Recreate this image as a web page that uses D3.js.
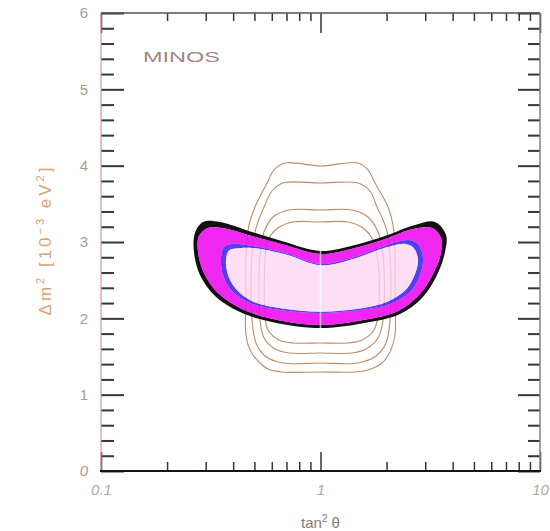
<!DOCTYPE html>
<html>
<head>
<meta charset="utf-8">
<script src="https://cdn.jsdelivr.net/npm/d3@7"></script>
<style>
  body { margin: 0; background: #ffffff; }
  svg { display: block; }
</style>
</head>
<body>
<svg id="chart" width="550" height="531"></svg>
<script>
// ---- axis ticks ----
const xMajorTicks = [0.1, 1, 10];
const xMinorTicks = [0.2, 0.3, 0.4, 0.5, 0.6, 0.7, 0.8, 0.9, 2, 3, 4, 5, 6, 7, 8, 9];
const xTickLabels = ["0.1", "1", "10"];
const yMajorTicks = [0, 1, 2, 3, 4, 5, 6];
const yMinorTicks = [0.2, 0.4, 0.6, 0.8, 1.2, 1.4, 1.6, 1.8, 2.2, 2.4, 2.6, 2.8,
                     3.2, 3.4, 3.6, 3.8, 4.2, 4.4, 4.6, 4.8, 5.2, 5.4, 5.6, 5.8];
const yTickLabels = ["0", "1", "2", "3", "4", "5", "6"];

// ---- MINOS allowed region: nested filled contours, [tan^2 theta, dm^2 (1e-3 eV^2)] ----
const blackEdge = [
  [0.2915, 3.262], [0.3484, 3.262], [0.4875, 3.131], [0.6892, 3.000], [1.0, 2.882],
  [1.436, 2.961], [1.967, 3.079], [2.695, 3.223], [3.324, 3.262], [3.731, 3.092],
  [3.692, 2.869], [3.395, 2.568], [2.900, 2.266], [2.302, 2.057], [1.681, 1.952],
  [1.0, 1.873], [0.6012, 1.952], [0.4298, 2.083], [0.3307, 2.293], [0.2825, 2.568],
  [0.2652, 2.869], [0.2680, 3.118]
];
const magentaEdge = [
  [0.3072, 3.184], [0.3558, 3.184], [0.4875, 3.079], [0.6892, 2.961], [1.0, 2.843],
  [1.436, 2.922], [1.967, 3.039], [2.639, 3.170], [3.221, 3.184], [3.540, 3.053],
  [3.540, 2.856], [3.255, 2.581], [2.810, 2.306], [2.255, 2.096], [1.663, 1.991],
  [1.0, 1.913], [0.6076, 1.991], [0.4389, 2.122], [0.3411, 2.332], [0.2945, 2.594],
  [0.2766, 2.869], [0.2795, 3.079]
];
const blueEdge = [
  [0.3952, 2.974], [0.4875, 2.948], [0.6892, 2.856], [1.0, 2.712], [1.436, 2.804],
  [1.906, 2.935], [2.504, 3.026], [2.781, 2.974], [2.931, 2.791], [2.840, 2.568],
  [2.557, 2.345], [2.073, 2.188], [1.514, 2.109], [1.0, 2.070], [0.6538, 2.109],
  [0.4773, 2.201], [0.3952, 2.358], [0.3596, 2.568], [0.3521, 2.791], [0.3634, 2.935]
];
const coreEdge = [
  [0.4121, 2.915], [0.4927, 2.922], [0.6892, 2.838], [1.0, 2.695], [1.436, 2.785],
  [1.906, 2.912], [2.427, 2.975], [2.639, 2.930], [2.781, 2.777], [2.695, 2.581],
  [2.453, 2.378], [2.030, 2.222], [1.514, 2.128], [1.0, 2.087], [0.6677, 2.128],
  [0.4875, 2.225], [0.4121, 2.384], [0.3790, 2.568], [0.3711, 2.764], [0.3829, 2.890]
];

// ---- comparison contours (thin brown lines) ----
const lineContour1 = [
  [1.0, 3.996], [1.482, 4.035], [1.646, 3.944], [1.771, 3.773], [2.030, 3.459],
  [2.139, 3.223], [2.185, 2.830], [2.185, 2.240], [2.185, 1.782], [2.073, 1.559],
  [1.906, 1.415], [1.646, 1.323], [1.436, 1.297], [1.0, 1.297], [0.6677, 1.297],
  [0.5765, 1.336], [0.5302, 1.415], [0.4825, 1.559], [0.4576, 1.782], [0.4576, 2.240],
  [0.4576, 2.830], [0.4724, 3.223], [0.5029, 3.459], [0.5706, 3.773], [0.6140, 3.944],
  [0.6892, 4.035]
];
const lineContour2 = [
  [1.0, 3.773], [1.482, 3.773], [1.681, 3.668], [1.808, 3.459], [1.988, 3.184],
  [2.073, 2.830], [2.073, 1.978], [1.988, 1.677], [1.790, 1.507], [1.482, 1.415],
  [1.0, 1.415], [0.6749, 1.415], [0.5588, 1.507], [0.5084, 1.677], [0.4875, 1.978],
  [0.4875, 2.830], [0.5084, 3.184], [0.5531, 3.459], [0.6012, 3.668], [0.6749, 3.773]
];
const lineContour3 = [
  [1.0, 3.419], [1.3915, 3.419], [1.646, 3.328], [1.828, 3.131], [1.926, 2.830],
  [1.926, 1.978], [1.828, 1.742], [1.612, 1.598], [1.3915, 1.546], [1.0, 1.546],
  [0.7187, 1.546], [0.6205, 1.598], [0.5531, 1.742], [0.5302, 1.978], [0.5302, 2.830],
  [0.5531, 3.131], [0.6076, 3.328], [0.7187, 3.419]
];
const lineContour4 = [
  [1.0, 3.262], [1.335, 3.262], [1.5616, 3.184], [1.7346, 3.026], [1.828, 2.764],
  [1.828, 2.044], [1.7527, 1.847], [1.5455, 1.716], [1.335, 1.677], [1.0, 1.677],
  [0.7495, 1.677], [0.6471, 1.716], [0.5765, 1.847], [0.5588, 2.044], [0.5588, 2.764],
  [0.5765, 3.026], [0.6404, 3.184], [0.7495, 3.262]
];
const lineContours = [lineContour1, lineContour2, lineContour3, lineContour4];

// ---- layout ----
const svg = d3.select("#chart");
const plot = { left: 101, right: 540, top: 13, bottom: 471 };

const x = d3.scaleLog().domain([0.1, 10]).range([plot.left, plot.right]);
const y = d3.scaleLinear().domain([0, 6]).range([plot.bottom, plot.top]);

const closed = d3.line()
  .x(d => x(d[0]))
  .y(d => y(d[1]))
  .curve(d3.curveCatmullRomClosed.alpha(0.5));

const defs = svg.append("defs");
defs.append("filter").attr("id", "soft")
  .attr("x", "-10%").attr("y", "-10%").attr("width", "120%").attr("height", "120%")
  .append("feGaussianBlur").attr("stdDeviation", 0.45);
defs.append("clipPath").attr("id", "regionClip")
  .append("path").attr("d", closed(blackEdge));

// brown comparison contours
const contourG = svg.append("g");
lineContours.forEach(c => {
  contourG.append("path")
    .attr("d", closed(c))
    .attr("fill", "none")
    .attr("stroke", "#bb8c68")
    .attr("stroke-width", 1.1);
});

// filled allowed-region bands (rings, so nothing overlaps)
const ring = (outer, inner) => closed(outer) + closed(inner);
svg.append("path")
  .attr("d", ring(blackEdge, magentaEdge))
  .attr("fill", "#140a12").attr("fill-rule", "evenodd")
  .attr("filter", "url(#soft)");
svg.append("path")
  .attr("d", ring(magentaEdge, blueEdge))
  .attr("fill", "#ee10ee").attr("fill-opacity", 0.9).attr("fill-rule", "evenodd");
svg.append("path")
  .attr("d", ring(blueEdge, coreEdge))
  .attr("fill", "#4228f0").attr("fill-opacity", 0.9).attr("fill-rule", "evenodd");
svg.append("path")
  .attr("d", closed(coreEdge))
  .attr("fill", "#fbd4f1").attr("fill-opacity", 0.75);

// seam at maximal mixing
svg.append("line")
  .attr("clip-path", "url(#regionClip)")
  .attr("x1", x(1)).attr("x2", x(1))
  .attr("y1", y(1.5)).attr("y2", y(3.5))
  .attr("stroke", "#ffffff").attr("stroke-opacity", 0.65).attr("stroke-width", 1.6);

// ---- axes ----
function ticks(gen, tx, ty, color, width) {
  const g = svg.append("g").attr("transform", `translate(${tx},${ty})`).call(gen);
  g.select(".domain").remove();
  g.selectAll("line").attr("stroke", color).attr("stroke-width", width);
  g.selectAll("text").remove();
  return g;
}
// left (ticks pointing inward)
ticks(d3.axisRight(y).tickValues(yMajorTicks).tickSize(23), plot.left, 0, "#3a3434", 2);
ticks(d3.axisRight(y).tickValues(yMinorTicks).tickSize(13), plot.left, 0, "#3a3434", 2);
// right
ticks(d3.axisLeft(y).tickValues(yMajorTicks).tickSize(22), plot.right, 0, "#3a3434", 2);
ticks(d3.axisLeft(y).tickValues(yMinorTicks).tickSize(12), plot.right, 0, "#3a3434", 2);
// bottom
ticks(d3.axisTop(x).tickValues(xMajorTicks).tickSize(19), 0, plot.bottom, "#3a3434", 1.5);
ticks(d3.axisTop(x).tickValues(xMinorTicks).tickSize(9), 0, plot.bottom, "#3a3434", 1.5);
// top
ticks(d3.axisBottom(x).tickValues(xMajorTicks).tickSize(20), 0, plot.top, "#3a3434", 1.5);
ticks(d3.axisBottom(x).tickValues(xMinorTicks).tickSize(8), 0, plot.top, "#3a3434", 1.5);

// frame
svg.append("line").attr("x1", plot.left).attr("x2", plot.left)
  .attr("y1", plot.top).attr("y2", plot.bottom)
  .attr("stroke", "#cf9aa2").attr("stroke-width", 1.2);
svg.append("line").attr("x1", plot.left).attr("x2", plot.right)
  .attr("y1", plot.top).attr("y2", plot.top)
  .attr("stroke", "#5a5050").attr("stroke-width", 1.6);
svg.append("line").attr("x1", plot.right).attr("x2", plot.right)
  .attr("y1", plot.top).attr("y2", plot.bottom)
  .attr("stroke", "#8a8080").attr("stroke-width", 1.5);
svg.append("line").attr("x1", plot.left - 1).attr("x2", plot.right + 1)
  .attr("y1", plot.bottom).attr("y2", plot.bottom)
  .attr("stroke", "#1a1414").attr("stroke-width", 2);

// tick labels
const yLab = svg.append("g").attr("transform", `translate(${plot.left},0)`)
  .call(d3.axisLeft(y).tickValues(yMajorTicks).tickSize(0).tickPadding(13)
    .tickFormat((d, i) => yTickLabels[i]));
yLab.select(".domain").remove();
yLab.selectAll("text")
  .attr("fill", "#ab9a92")
  .style("font-family", "'Liberation Sans', Arial, sans-serif")
  .style("font-size", "15px")
  .style("font-style", d => d === 0 ? "italic" : "normal");

const xLab = svg.append("g").attr("transform", `translate(0,${plot.bottom})`)
  .call(d3.axisBottom(x).tickValues(xMajorTicks).tickSize(0).tickPadding(13)
    .tickFormat((d, i) => xTickLabels[i]));
xLab.select(".domain").remove();
xLab.selectAll("text")
  .attr("fill", "#b4a8a2")
  .style("font-family", "'Liberation Sans', Arial, sans-serif")
  .style("font-size", "15px")
  .style("font-style", "italic");

// axis titles
const yTitle = svg.append("text")
  .attr("transform", "translate(51,240) rotate(-90)")
  .attr("text-anchor", "middle")
  .attr("fill", "#d9a474")
  .style("font-family", "'Liberation Sans', Arial, sans-serif")
  .style("font-size", "17px")
  .style("letter-spacing", "3px");
yTitle.append("tspan").text("Δm");
yTitle.append("tspan").attr("dy", -7).style("font-size", "11px").text("2");
yTitle.append("tspan").attr("dy", 7).text(" [10");
yTitle.append("tspan").attr("dy", -7).style("font-size", "11px").text("−3");
yTitle.append("tspan").attr("dy", 7).text(" eV");
yTitle.append("tspan").attr("dy", -7).style("font-size", "11px").text("2");
yTitle.append("tspan").attr("dy", 7).text("]");

const xTitle = svg.append("text")
  .attr("x", x(1)).attr("y", 528)
  .attr("text-anchor", "middle")
  .attr("fill", "#857a78")
  .style("font-family", "'Liberation Sans', Arial, sans-serif")
  .style("font-size", "15px");
xTitle.append("tspan").text("tan");
xTitle.append("tspan").attr("dy", -6).style("font-size", "10px").text("2");
xTitle.append("tspan").attr("dy", 6).text(" θ");

// experiment label
svg.append("text")
  .attr("x", 143).attr("y", 62)
  .attr("textLength", 77).attr("lengthAdjust", "spacingAndGlyphs")
  .attr("fill", "#a08686")
  .style("font-family", "'Liberation Sans', Arial, sans-serif")
  .style("font-size", "15px")
  .text("MINOS");
</script>
</body>
</html>
